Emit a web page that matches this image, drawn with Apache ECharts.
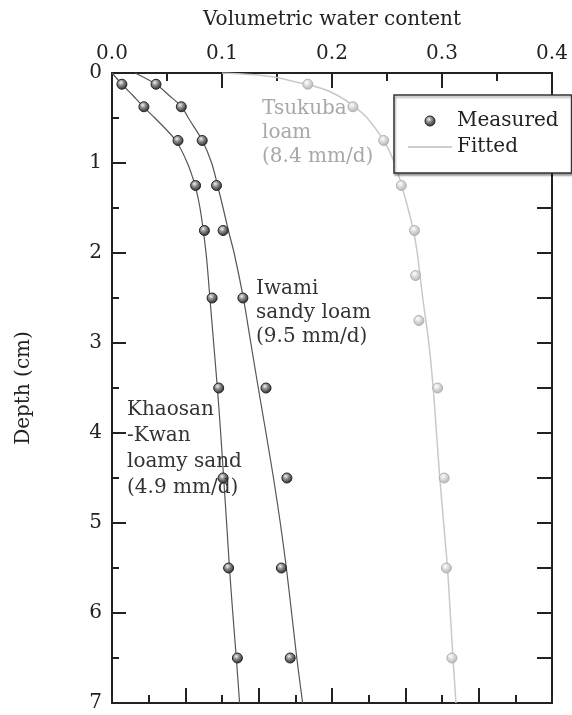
<!DOCTYPE html>
<html>
<head>
<meta charset="utf-8">
<script src="https://cdn.jsdelivr.net/npm/echarts@6/dist/echarts.min.js"></script>
<style>
  html, body { margin: 0; padding: 0; background: #fff; }
  #chart { width: 572px; height: 715px; }
</style>
</head>
<body>
<div id="chart"></div>
<script>
// measured depths (cm)
var depthMeasured = [0.125, 0.375, 0.75, 1.25, 1.75, 2.5, 3.5, 4.5, 5.5, 6.5];
var tsukubaDepth = [0.125, 0.375, 0.75, 1.25, 1.75, 2.25, 2.75, 3.5, 4.5, 5.5, 6.5];

// measured volumetric water content
var khaosanMeasured = [0.009, 0.029, 0.060, 0.076, 0.084, 0.091, 0.097, 0.101, 0.106, 0.114];
var iwamiMeasured = [0.040, 0.063, 0.082, 0.095, 0.101, 0.119, 0.140, 0.159, 0.154, 0.162];
var tsukubaMeasured = [0.178, 0.219, 0.247, 0.263, 0.275, 0.276, 0.279, 0.296, 0.302, 0.304, 0.309];

// fitted curves
var khaosanFitDepth = [0, 0.125, 0.25, 0.375, 0.5, 0.75, 1, 1.25, 1.5, 2, 2.5, 3, 3.5, 4, 4.5, 5, 5.5, 6, 6.5, 7];
var khaosanFit = [0, 0.009, 0.019, 0.0285, 0.039, 0.058, 0.0685, 0.0755, 0.080, 0.0855, 0.089, 0.0924, 0.0958, 0.0988, 0.1015, 0.1042, 0.1068, 0.1098, 0.1130, 0.1160];

var iwamiFitDepth = [0, 0.125, 0.25, 0.375, 0.5, 0.75, 1, 1.25, 1.5, 1.75, 2, 2.5, 3, 3.5, 4, 4.5, 5, 5.5, 6, 6.5, 7];
var iwamiFit = [0.021, 0.040, 0.052, 0.0633, 0.0694, 0.0821, 0.0906, 0.096, 0.101, 0.1058, 0.111, 0.1194, 0.1262, 0.1330, 0.1400, 0.1468, 0.1530, 0.1585, 0.1633, 0.1680, 0.1733];

var tsukubaFitDepth = [0, 0.02, 0.05, 0.1, 0.133, 0.2, 0.3, 0.4, 0.5, 0.75, 1, 1.25, 1.5, 1.75, 2, 2.5, 3, 3.5, 4, 4.5, 5, 5.5, 6, 6.5, 7];
var tsukubaFit = [0.10, 0.13, 0.15, 0.167, 0.18, 0.197, 0.212, 0.223, 0.232, 0.247, 0.257, 0.2633, 0.269, 0.274, 0.2775, 0.2825, 0.288, 0.292, 0.295, 0.298, 0.3015, 0.305, 0.3075, 0.310, 0.3127];

var xTicks = ['0.0', '0.1', '0.2', '0.3', '0.4'];

function pairs(xs, ys) {
  return ys.map(function (y, i) { return [xs[i], y]; });
}

var font = 'DejaVu Serif';
var axisColor = '#222';

var darkBall = {
  type: 'radial', x: 0.4, y: 0.35, r: 0.65,
  colorStops: [
    { offset: 0, color: '#f2f2f2' },
    { offset: 0.4, color: '#8c8c8c' },
    { offset: 1, color: '#2a2a2a' }
  ]
};
var lightBall = {
  type: 'radial', x: 0.4, y: 0.35, r: 0.65,
  colorStops: [
    { offset: 0, color: '#ffffff' },
    { offset: 0.45, color: '#dadada' },
    { offset: 1, color: '#b4b4b4' }
  ]
};

var chart = echarts.init(document.getElementById('chart'));

var option = {
  animation: false,
  grid: { left: 112, right: 20, top: 73, bottom: 12 },
  legend: {
    orient: 'vertical',
    left: 394,
    top: 95,
    padding: [16, 13, 16, 14],
    itemWidth: 44,
    itemHeight: 10,
    itemGap: 6,
    itemSymbolKeepAspect: true,
    selectedMode: false,
    backgroundColor: '#fff',
    borderColor: '#333',
    borderWidth: 1.5,
    shadowColor: 'rgba(0,0,0,0.35)',
    shadowOffsetX: 1,
    shadowOffsetY: 2,
    shadowBlur: 2,
    textStyle: { fontFamily: font, fontSize: 20, color: '#222' },
    data: [
      { name: 'Measured', icon: 'circle', itemStyle: { color: darkBall, borderColor: '#222', borderWidth: 1 } },
      { name: 'Fitted', icon: 'path://M0,0H44V1.5H0Z', itemStyle: { color: '#bdbdbd', borderWidth: 0 } }
    ]
  },
  xAxis: [
    {
      type: 'value',
      position: 'top',
      min: 0,
      max: 0.4,
      interval: 0.1,
      name: 'Volumetric water content',
      nameLocation: 'middle',
      nameGap: 43,
      nameTextStyle: { fontFamily: font, fontSize: 20, color: '#222' },
      axisLine: { show: true, lineStyle: { color: axisColor, width: 2 } },
      axisTick: { show: true, inside: true, length: 15, lineStyle: { color: axisColor, width: 2 } },
      minorTick: { show: true, splitNumber: 2, length: 8, lineStyle: { color: axisColor, width: 2 } },
      axisLabel: {
        margin: 9,
        fontFamily: font, fontSize: 20, color: '#222',
        formatter: function (v) { return xTicks[Math.round(v * 10)]; }
      },
      splitLine: { show: false }
    },
    {
      type: 'value',
      position: 'bottom',
      min: 0,
      max: 6,
      interval: 1,
      axisLine: { show: true, onZero: false, lineStyle: { color: axisColor, width: 2 } },
      axisTick: { show: true, inside: true, length: 15, lineStyle: { color: axisColor, width: 2 } },
      minorTick: { show: true, splitNumber: 2, length: 8, lineStyle: { color: axisColor, width: 2 } },
      axisLabel: { show: false },
      splitLine: { show: false }
    }
  ],
  yAxis: [
    {
      type: 'value',
      inverse: true,
      position: 'left',
      min: 0,
      max: 7,
      interval: 1,
      name: 'Depth (cm)',
      nameLocation: 'middle',
      nameRotate: 90,
      nameGap: 78,
      nameTextStyle: { fontFamily: font, fontSize: 20, color: '#222' },
      axisLine: { show: true, onZero: false, lineStyle: { color: axisColor, width: 2 } },
      axisTick: { show: true, inside: true, length: 14, lineStyle: { color: axisColor, width: 2 } },
      minorTick: { show: true, splitNumber: 2, length: 7, lineStyle: { color: axisColor, width: 2 } },
      axisLabel: { margin: 10, fontFamily: font, fontSize: 20, color: '#222' },
      splitLine: { show: false }
    },
    {
      type: 'value',
      inverse: true,
      position: 'right',
      min: 0,
      max: 7,
      interval: 0.5,
      axisLine: { show: true, onZero: false, lineStyle: { color: axisColor, width: 2 } },
      axisTick: { show: true, inside: true, length: 15, lineStyle: { color: axisColor, width: 2 } },
      axisLabel: { show: false },
      splitLine: { show: false }
    }
  ],
  series: [
    {
      name: 'Fitted', type: 'line', smooth: 0.3, symbol: 'none',
      lineStyle: { color: '#c9c9c9', width: 1.5 },
      data: pairs(tsukubaFit, tsukubaFitDepth), z: 1
    },
    {
      name: 'Fitted', type: 'line', smooth: 0.3, symbol: 'none',
      lineStyle: { color: '#555', width: 1.2 },
      data: pairs(khaosanFit, khaosanFitDepth), z: 1
    },
    {
      name: 'Fitted', type: 'line', smooth: 0.3, symbol: 'none',
      lineStyle: { color: '#555', width: 1.2 },
      data: pairs(iwamiFit, iwamiFitDepth), z: 1
    },
    {
      name: 'Measured', type: 'scatter', symbolSize: 10,
      itemStyle: { color: darkBall, borderColor: '#222', borderWidth: 1, opacity: 1 },
      data: pairs(khaosanMeasured, depthMeasured), z: 3
    },
    {
      name: 'Measured', type: 'scatter', symbolSize: 10,
      itemStyle: { color: darkBall, borderColor: '#222', borderWidth: 1, opacity: 1 },
      data: pairs(iwamiMeasured, depthMeasured), z: 3
    },
    {
      name: 'Measured', type: 'scatter', symbolSize: 10,
      itemStyle: { color: lightBall, borderColor: '#b0b0b0', borderWidth: 1, opacity: 1 },
      data: pairs(tsukubaMeasured, tsukubaDepth), z: 3
    }
  ],
  graphic: [
    {
      type: 'text', left: 262, top: 97, z: 5,
      style: { text: 'Tsukuba\nloam\n(8.4 mm/d)', font: '20px "DejaVu Serif"', fill: '#a8a8a8', lineHeight: 24 }
    },
    {
      type: 'text', left: 256, top: 277, z: 5,
      style: { text: 'Iwami\nsandy loam\n(9.5 mm/d)', font: '20px "DejaVu Serif"', fill: '#333', lineHeight: 24 }
    },
    {
      type: 'text', left: 127, top: 397, z: 5,
      style: { text: 'Khaosan\n-Kwan\nloamy sand\n(4.9 mm/d)', font: '20px "DejaVu Serif"', fill: '#333', lineHeight: 26 }
    }
  ]
};

chart.setOption(option);
</script>
</body>
</html>
